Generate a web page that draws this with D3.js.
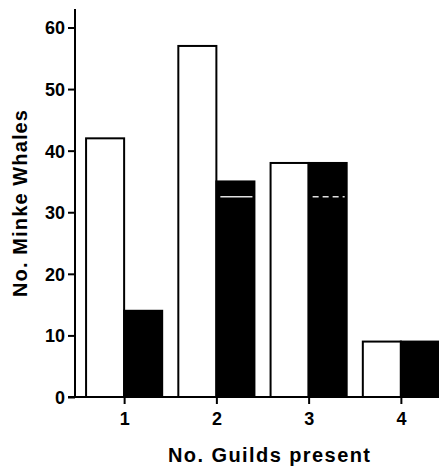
<!DOCTYPE html>
<html>
<head>
<meta charset="utf-8">
<script src="https://cdn.jsdelivr.net/npm/d3@7"></script>
<style>
  html, body { margin: 0; padding: 0; background: #fff; }
  svg { display: block; }
  text { font-family: "Liberation Sans", Arial, Helvetica, sans-serif; fill: #000; }
</style>
</head>
<body>
<svg id="chart" width="439" height="470"></svg>
<script>
// ---- data ----
const categories = ["1", "2", "3", "4"];
const seriesNames = ["open", "filled"];
const openValues = [42, 57, 38, 9];
const filledValues = [14, 35, 38, 9];
const filledMarkers = [null, 32.5, 32.5, null];
const yTicks = [0, 10, 20, 30, 40, 50, 60];
const xTitle = "No. Guilds present";
const yTitle = "No. Minke Whales";

// ---- layout ----
const svg = d3.select("#chart");
const W = 439, H = 470;
const axisX = 75, baseY = 397, topY = 9;

const y = d3.scaleLinear().domain([0, 63]).range([baseY, topY]);
const x = d3.scaleBand().domain(categories).range([78, 447]).padding(0);
const groupW = x.bandwidth() * 0.825;
const x1 = d3.scaleBand().domain(seriesNames).range([0, groupW]).padding(0);
const center = c => x(c) + x.bandwidth() / 2;

const rows = categories.map((c, i) => ({
  cat: c,
  vals: [
    { s: "open", v: openValues[i] },
    { s: "filled", v: filledValues[i] }
  ],
  marker: filledMarkers[i]
}));

// bars
const g = svg.append("g");
const grp = g.selectAll("g.grp").data(rows).join("g")
  .attr("class", "grp")
  .attr("transform", d => `translate(${center(d.cat) - groupW / 2},0)`);

grp.selectAll("rect").data(d => d.vals).join("rect")
  .attr("x", d => x1(d.s))
  .attr("y", d => y(d.v))
  .attr("width", x1.bandwidth())
  .attr("height", d => y(0) - y(d.v))
  .attr("fill", d => d.s === "open" ? "#fff" : "#000")
  .attr("stroke", "#000")
  .attr("stroke-width", 2);

// faint white marker lines inside filled bars
grp.filter(d => d.marker != null).append("line")
  .attr("x1", x1("filled") + 4)
  .attr("x2", x1("filled") + x1.bandwidth() - 2)
  .attr("y1", d => y(d.marker))
  .attr("y2", d => y(d.marker))
  .attr("stroke", "#e0e0e0")
  .attr("stroke-width", 1.5)
  .attr("stroke-dasharray", (d, i) => i === 0 ? null : "6,4");

// y axis
const yAxis = d3.axisLeft(y).tickValues(yTicks).tickSize(7).tickPadding(3).tickFormat(d3.format("d"));
const yg = svg.append("g").attr("transform", `translate(${axisX},0)`).call(yAxis);
yg.select(".domain").remove();
yg.append("line").attr("x1", 0).attr("x2", 0).attr("y1", topY).attr("y2", baseY + 1)
  .attr("stroke", "#000").attr("stroke-width", 2);
yg.selectAll(".tick line").attr("stroke", "#000").attr("stroke-width", 2);
yg.selectAll(".tick text")
  .attr("font-size", 18).attr("font-weight", "bold")
  .attr("dy", "0.36em");

// x axis
const xg = svg.append("g").attr("transform", `translate(0,${baseY})`);
xg.append("line").attr("x1", axisX - 7).attr("x2", W).attr("y1", 0).attr("y2", 0)
  .attr("stroke", "#000").attr("stroke-width", 2);
const xAx = d3.axisBottom(d3.scalePoint().domain(categories).range([center("1"), center("4")]))
  .tickSize(7).tickPadding(8);
const xg2 = svg.append("g").attr("transform", `translate(0,${baseY})`).call(xAx);
xg2.select(".domain").remove();
xg2.selectAll(".tick line").attr("stroke", "#000").attr("stroke-width", 2);
xg2.selectAll(".tick text").attr("font-size", 18).attr("font-weight", "bold");

// titles
svg.append("text")
  .attr("x", 269).attr("y", 462)
  .attr("text-anchor", "middle")
  .attr("font-size", 20)
  .attr("font-weight", "bold")
  .attr("textLength", 202).attr("lengthAdjust", "spacing")
  .text(xTitle);

svg.append("text")
  .attr("transform", `translate(27,${(110 + 297) / 2}) rotate(-90)`)
  .attr("text-anchor", "middle")
  .attr("font-size", 20)
  .attr("font-weight", "bold")
  .attr("textLength", 187).attr("lengthAdjust", "spacing")
  .text(yTitle);
</script>
</body>
</html>
